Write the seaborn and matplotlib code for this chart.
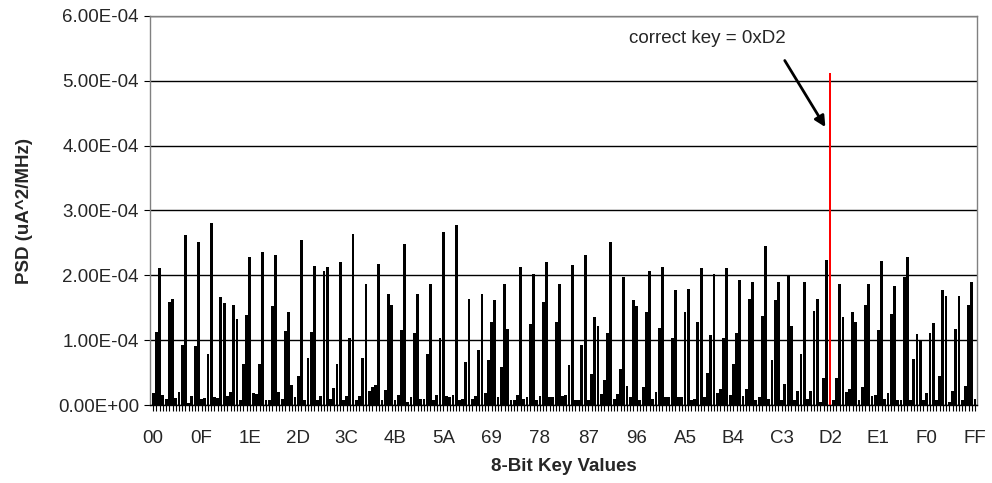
import matplotlib
matplotlib.use("Agg")
import matplotlib.pyplot as plt
import matplotlib.ticker as mticker
import seaborn as sns
import pandas as pd

# PSD values in units of 1e-4 uA^2/MHz, one per 8-bit key 0x00..0xFF
psd_e4 = [
    0.18, 1.13, 2.11, 0.15, 0.10, 1.59, 1.63, 0.11, 0.20, 0.93, 2.62, 0.03, 0.14, 0.91, 2.51, 0.10,
    0.11, 0.78, 2.80, 0.12, 0.11, 1.67, 1.58, 0.14, 0.20, 1.55, 1.33, 0.08, 0.64, 1.39, 2.29, 0.19,
    0.17, 0.64, 2.36, 0.08, 0.08, 1.52, 2.32, 0.20, 0.10, 1.14, 1.43, 0.31, 0.12, 0.45, 2.54, 0.07,
    0.73, 1.13, 2.14, 0.07, 0.14, 2.07, 2.13, 0.09, 0.26, 0.63, 2.20, 0.07, 0.14, 1.03, 2.63, 0.07,
    0.14, 0.73, 1.87, 0.22, 0.27, 0.31, 2.17, 0.08, 0.23, 1.71, 1.54, 0.08, 0.15, 1.15, 2.48, 0.05,
    0.12, 1.11, 1.71, 0.10, 0.10, 0.78, 1.87, 0.08, 0.15, 1.03, 2.67, 0.14, 0.12, 0.15, 2.78, 0.08,
    0.10, 0.66, 1.64, 0.10, 0.14, 0.85, 1.71, 0.19, 0.69, 1.28, 1.62, 0.12, 0.58, 1.87, 1.17, 0.08,
    0.08, 0.15, 2.13, 0.10, 0.12, 1.25, 2.02, 0.08, 0.14, 1.59, 2.20, 0.12, 0.12, 1.28, 1.87, 0.14,
    0.15, 0.62, 2.16, 0.08, 0.08, 0.93, 2.32, 0.07, 0.48, 1.36, 1.22, 0.17, 0.39, 1.11, 2.51, 0.10,
    0.17, 0.56, 1.98, 0.29, 0.12, 1.62, 1.52, 0.07, 0.27, 1.43, 2.06, 0.10, 0.20, 1.19, 2.13, 0.12,
    0.12, 1.03, 1.77, 0.12, 0.12, 1.43, 1.79, 0.07, 0.10, 1.28, 2.11, 0.12, 0.50, 1.08, 2.02, 0.19,
    0.25, 1.03, 2.11, 0.15, 0.64, 1.11, 1.93, 0.14, 0.25, 1.64, 1.89, 0.08, 0.13, 1.37, 2.46, 0.10,
    0.69, 1.62, 1.89, 0.07, 0.32, 2.00, 1.22, 0.07, 0.22, 0.78, 1.89, 0.10, 0.22, 1.45, 1.64, 0.04,
    0.41, 2.24, 5.12, 0.08, 0.41, 1.86, 1.36, 0.20, 0.25, 1.43, 1.28, 0.07, 0.27, 1.55, 1.87, 0.14,
    0.15, 1.15, 2.22, 0.10, 0.19, 1.41, 1.84, 0.07, 0.08, 1.98, 2.28, 0.07, 0.71, 1.09, 1.00, 0.07,
    0.18, 1.11, 1.27, 0.08, 0.45, 1.78, 1.68, 0.04, 0.22, 1.17, 1.68, 0.08, 0.30, 1.54, 1.89, 0.10,
]
keys = [f"{k:02X}" for k in range(256)]
correct_key = "D2"
tick_labels = ["00", "0F", "1E", "2D", "3C", "4B", "5A", "69", "78", "87",
               "96", "A5", "B4", "C3", "D2", "E1", "F0", "FF"]

df = pd.DataFrame({"key": keys, "psd": [v * 1e-4 for v in psd_e4]})
palette = {k: ("#FF0000" if k == correct_key else "#000000") for k in keys}

sns.set_theme(style="white")
plt.rcParams["font.family"] = ["Liberation Sans", "DejaVu Sans"]

fig = plt.figure(figsize=(9.92, 4.83), dpi=100)
ax = fig.add_axes([150 / 992, 1 - 405 / 483, (977 - 150) / 992, (405 - 16) / 483])

sns.barplot(data=df, x="key", y="psd", hue="key", palette=palette, legend=False,
            width=0.88, saturation=1, linewidth=0, ax=ax, order=keys)

ax.set_ylim(0, 6e-4)
ax.set_xlim(-1.0, 255.6)
ax.yaxis.set_major_locator(mticker.MultipleLocator(1e-4))
ax.yaxis.set_major_formatter(mticker.FuncFormatter(lambda v, p: f"{v:.2E}"))
ax.yaxis.grid(True, color="black", linewidth=1)
ax.set_axisbelow(True)

ax.set_xticks(range(256))
lbls = [k if k in tick_labels else "" for k in keys]
ax.set_xticklabels(lbls)
ax.tick_params(axis="x", length=4, width=0.8, color="black", direction="out",
               labelsize=13.5, pad=14, bottom=True)
ax.tick_params(axis="y", length=4, width=0.8, color="black", direction="out",
               labelsize=13.5, pad=4, left=True)

for s in ["left", "right", "top"]:
    ax.spines[s].set_color("#808080")
    ax.spines[s].set_linewidth(1)
ax.spines["bottom"].set_color("black")
ax.spines["bottom"].set_linewidth(1)

ax.set_xlabel("8-Bit Key Values", fontsize=13.5, fontweight="bold", labelpad=8)
ax.set_ylabel("PSD (uA^2/MHz)", fontsize=13.5, fontweight="bold", labelpad=18)

ax.text(172, 5.65e-4, "correct key = 0xD2", fontsize=13.5, ha="center", va="center")
ax.annotate("", xy=(209, 4.25e-4), xytext=(195.5, 5.35e-4),
            arrowprops=dict(arrowstyle="-|>", color="black", lw=2, mutation_scale=16))

fig.savefig("out.png", dpi=100)
